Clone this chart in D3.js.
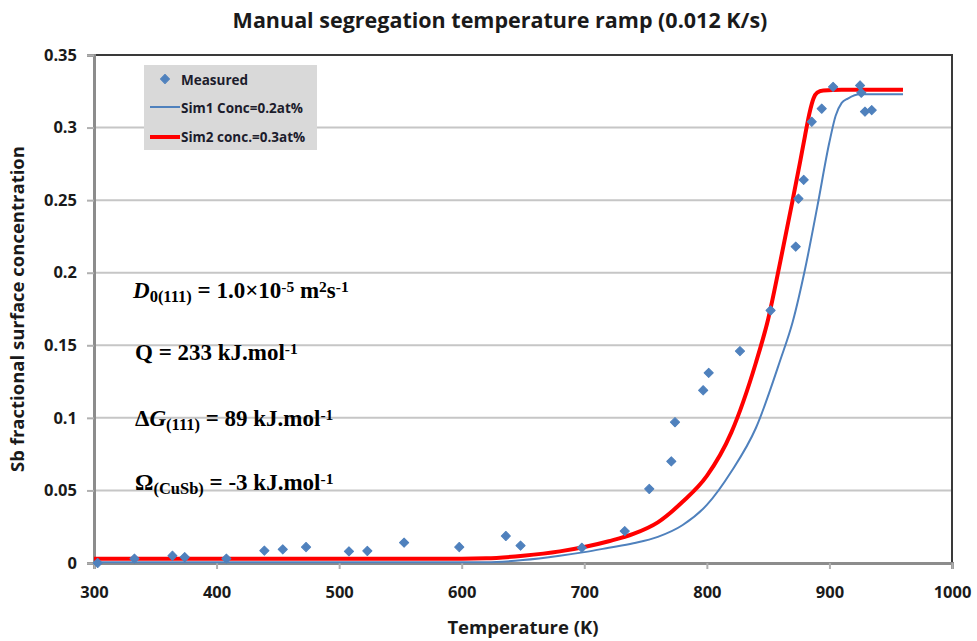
<!DOCTYPE html>
<html><head><meta charset="utf-8">
<script src="https://cdn.jsdelivr.net/npm/d3@7"></script>
<style>
html,body{margin:0;padding:0;background:#fff;}
svg{display:block;}
</style></head>
<body>
<svg id="chart" width="977" height="641"></svg>
<script>
// ---- data ----
const measuredT = [303, 333, 364, 374, 408, 439, 454, 473, 508, 523, 553, 598, 636, 648, 698, 733, 753, 771, 774, 797, 801.5, 827, 852, 872.5, 874.7, 879, 885.6, 893.7, 903, 925, 926, 929, 934.5];
const measuredC = [0.000, 0.003, 0.005, 0.004, 0.003, 0.0085, 0.0094, 0.011, 0.008, 0.0083, 0.014, 0.011, 0.0186, 0.012, 0.0105, 0.022, 0.051, 0.070, 0.097, 0.119, 0.131, 0.146, 0.174, 0.218, 0.251, 0.264, 0.304, 0.313, 0.328, 0.329, 0.324, 0.311, 0.312];

const sim1T = [300, 620, 650, 680, 700, 720, 740, 760, 780, 800, 820, 840, 860, 870, 880, 890, 900, 905, 910, 915, 925, 960];
const sim1C = [0.0005, 0.0005, 0.002, 0.005, 0.0075, 0.0105, 0.0136, 0.018, 0.026, 0.040, 0.063, 0.093, 0.140, 0.166, 0.202, 0.245, 0.290, 0.308, 0.317, 0.320, 0.323, 0.323];

const sim2T = [300, 600, 620, 650, 680, 700, 720, 740, 760, 780, 800, 820, 840, 850, 860, 870, 876, 880, 884, 887, 890, 895, 910, 960];
const sim2C = [0.003, 0.003, 0.0032, 0.005, 0.008, 0.011, 0.015, 0.020, 0.028, 0.042, 0.060, 0.090, 0.138, 0.168, 0.208, 0.250, 0.276, 0.294, 0.311, 0.320, 0.324, 0.3255, 0.326, 0.326];

const xTicks = [300, 400, 500, 600, 700, 800, 900, 1000];
const yTicks = [0, 0.05, 0.1, 0.15, 0.2, 0.25, 0.3, 0.35];
const yTickLabels = ["0", "0.05", "0.1", "0.15", "0.2", "0.25", "0.3", "0.35"];

const titleText = "Manual segregation temperature ramp (0.012 K/s)";
const xLabel = "Temperature (K)";
const yLabel = "Sb fractional surface concentration";
const legendLabels = ["Measured", "Sim1 Conc=0.2at%", "Sim2 conc.=0.3at%"];

// ---- layout ----
const L = 94, R = 952, T = 55, B = 563;
const blue = "#4f81bd", red = "#ff0000";
const sans = "'Open Sans', Lato, sans-serif";
const serif = "'Liberation Serif', 'Times New Roman', serif";

const svg = d3.select("#chart");
const x = d3.scaleLinear().domain([300, 1000]).range([L, R]);
const y = d3.scaleLinear().domain([0, 0.35]).range([B, T]);

// gridlines
svg.append("g").selectAll("line").data(yTicks.filter(v => v > 0 && v < 0.35)).join("line")
  .attr("x1", L).attr("x2", R).attr("y1", d => y(d)).attr("y2", d => y(d))
  .attr("stroke", "#c6c6c6").attr("stroke-width", 2);

// top & right border
svg.append("path").attr("d", `M${L},${T}H${R}V${B}`).attr("fill", "none")
  .attr("stroke", "#3a3a3a").attr("stroke-width", 2);

// axes
const xAxis = d3.axisBottom(x).tickValues(xTicks).tickSize(6).tickFormat(d3.format("d"));
const gx = svg.append("g").attr("transform", `translate(0,${B})`).call(xAxis);
gx.select(".domain").attr("stroke", "#8c8c8c").attr("stroke-width", 3);
gx.selectAll(".tick line").attr("stroke", "#b0b0b0").attr("stroke-width", 2);
gx.selectAll(".tick text").attr("y", 35).attr("dy", null).attr("font-family", sans).attr("font-weight", "bold")
  .attr("font-size", 16.5).attr("fill", "#1a1a1a");

const yAxis = d3.axisLeft(y).tickValues(yTicks).tickSize(7).tickFormat((d, i) => yTickLabels[i]);
const gy = svg.append("g").attr("transform", `translate(${L},0)`).call(yAxis);
gy.select(".domain").attr("stroke", "#8c8c8c").attr("stroke-width", 3);
gy.selectAll(".tick line").attr("stroke", "#b0b0b0").attr("stroke-width", 2);
gy.selectAll(".tick text").attr("x", -17).attr("font-family", sans).attr("font-weight", "bold")
  .attr("font-size", 16.5).attr("fill", "#1a1a1a");

// curves
const line = d3.line().x(d => x(d[0])).y(d => y(d[1])).curve(d3.curveMonotoneX);
svg.append("path").datum(sim1T.map((t, i) => [t, sim1C[i]])).attr("d", line)
  .attr("fill", "none").attr("stroke", blue).attr("stroke-width", 2);
svg.append("path").datum(sim2T.map((t, i) => [t, sim2C[i]])).attr("d", line)
  .attr("fill", "none").attr("stroke", red).attr("stroke-width", 4);

// measured points
const diamond = d3.symbol().type(d3.symbolSquare).size(42);
svg.append("g").selectAll("path").data(measuredT.map((t, i) => [t, measuredC[i]])).join("path")
  .attr("d", diamond)
  .attr("transform", d => `translate(${x(d[0])},${y(d[1])}) rotate(45)`)
  .attr("fill", blue).attr("stroke", blue).attr("stroke-width", 1).attr("stroke-linejoin", "round");

// title & axis labels
svg.append("text").attr("x", 500).attr("y", 28).attr("text-anchor", "middle")
  .attr("font-family", sans).attr("font-weight", "bold").attr("font-size", 21.5).attr("fill", "#1a1a1a")
  .text(titleText);
svg.append("text").attr("x", 523).attr("y", 634).attr("text-anchor", "middle")
  .attr("font-family", sans).attr("font-weight", "bold").attr("font-size", 18.5).attr("fill", "#1a1a1a")
  .text(xLabel);
svg.append("text").attr("transform", "translate(24,309) rotate(-90)").attr("text-anchor", "middle")
  .attr("font-family", sans).attr("font-weight", "bold").attr("font-size", 18.5).attr("fill", "#1a1a1a")
  .text(yLabel);

// legend
const lg = svg.append("g");
lg.append("rect").attr("x", 144).attr("y", 65).attr("width", 173).attr("height", 85).attr("fill", "#d9d9d9");
lg.append("path").attr("d", diamond).attr("transform", "translate(165,79) rotate(45)").attr("fill", blue)
  .attr("stroke", blue).attr("stroke-width", 1).attr("stroke-linejoin", "round");
lg.append("line").attr("x1", 150).attr("x2", 180).attr("y1", 107).attr("y2", 107).attr("stroke", blue).attr("stroke-width", 2);
lg.append("line").attr("x1", 150).attr("x2", 180).attr("y1", 137).attr("y2", 137).attr("stroke", red).attr("stroke-width", 4);
lg.selectAll("text").data(legendLabels).join("text")
  .attr("x", 181).attr("y", (d, i) => [85, 113, 142][i])
  .attr("font-family", sans).attr("font-weight", "bold").attr("font-size", 13.5).attr("fill", "#1c1c2c")
  .text(d => d);

// annotations
const ann = svg.append("g").attr("font-family", serif).attr("font-weight", "bold").attr("font-size", 23).attr("fill", "#000");
function addLine(xPos, yPos, parts) {
  const t = ann.append("text").attr("x", xPos).attr("y", yPos);
  parts.forEach(p => {
    const s = t.append("tspan").text(p.t);
    if (p.i) s.attr("font-style", "italic");
    if (p.sub) s.attr("font-size", 16.5).attr("baseline-shift", "-25%");
    if (p.sup) s.attr("font-size", 15.5).attr("baseline-shift", "40%");
  });
}
addLine(133, 298, [{t: "D", i: 1}, {t: "0(111)", sub: 1}, {t: " = 1.0×10"}, {t: "-5", sup: 1}, {t: " m"}, {t: "2", sup: 1}, {t: "s"}, {t: "-1", sup: 1}]);
addLine(135, 360, [{t: "Q = 233 kJ.mol"}, {t: "-1", sup: 1}]);
addLine(135, 426, [{t: "Δ"}, {t: "G", i: 1}, {t: "(111)", sub: 1}, {t: " = 89 kJ.mol"}, {t: "-1", sup: 1}]);
addLine(135, 490, [{t: "Ω"}, {t: "(CuSb)", sub: 1}, {t: " = -3 kJ.mol"}, {t: "-1", sup: 1}]);
</script>
</body></html>
